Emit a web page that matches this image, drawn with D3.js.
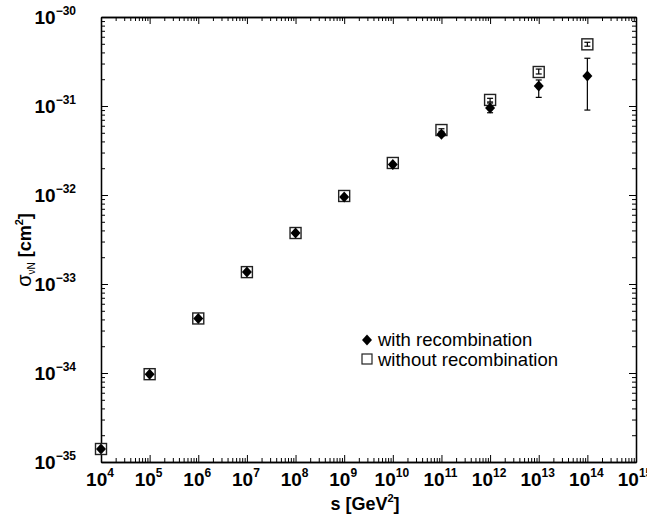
<!DOCTYPE html>
<html>
<head>
<meta charset="utf-8">
<script src="https://cdn.jsdelivr.net/npm/d3@7"></script>
<style>
  body { margin: 0; background: #fff; }
  svg { display: block; font-family: "Liberation Sans", Arial, sans-serif; }
</style>
</head>
<body>
<svg width="647" height="516"></svg>
<script>
// s values [GeV^2]
const sValues = [1e4, 1e5, 1e6, 1e7, 1e8, 1e9, 1e10, 1e11, 1e12, 1e13, 1e14];

// cross sections [cm^2]
const withRec = [1.4e-35, 9.7e-35, 4.1e-34, 1.36e-33, 3.74e-33, 9.5e-33, 2.2e-32, 4.8e-32, 9.5e-32, 1.68e-31, 2.17e-31];
const withRecLo = [null, null, null, null, null, null, null, 4.6e-32, 8.4e-32, 1.25e-31, 9.0e-32];
const withRecHi = [null, null, null, null, null, null, null, 5.0e-32, 1.08e-31, 1.96e-31, 3.44e-31];

const withoutRec = [1.4e-35, 9.7e-35, 4.1e-34, 1.36e-33, 3.74e-33, 9.75e-33, 2.29e-32, 5.37e-32, 1.17e-31, 2.41e-31, 4.93e-31];
const withoutRecLo = [null, null, null, null, null, null, null, 5.2e-32, 1.11e-31, 2.29e-31, 4.7e-31];
const withoutRecHi = [null, null, null, null, null, null, null, 5.55e-32, 1.22e-31, 2.6e-31, 5.2e-31];

const xDecades = d3.range(4, 16);   // 10^4 .. 10^15
const yDecades = d3.range(-35, -29); // 10^-35 .. 10^-30

const width = 647;
const height = 516;
const margin = { top: 17, right: 11, bottom: 54, left: 101 };

const svg = d3.select("svg");

const x = d3.scaleLog()
  .domain([1e4, 1e15])
  .range([margin.left, width - margin.right]);

const y = d3.scaleLog()
  .domain([1e-35, 1e-30])
  .range([height - margin.bottom, margin.top]);

// major + minor tick values
const xMajor = xDecades.map(d => Math.pow(10, d));
const xMinor = [];
xDecades.slice(0, -1).forEach(d => {
  for (let k = 2; k < 10; k++) xMinor.push(k * Math.pow(10, d));
});
const yMajor = yDecades.map(d => Math.pow(10, d));
const yMinor = [];
yDecades.slice(0, -1).forEach(d => {
  for (let k = 2; k < 10; k++) yMinor.push(k * Math.pow(10, d));
});

const axisStyle = g => {
  g.selectAll(".domain").attr("stroke", "#000").attr("stroke-width", 1.3);
  g.selectAll(".tick line").attr("stroke", "#000").attr("stroke-width", 1);
  g.selectAll(".tick text").remove();
};

const x0 = margin.left, x1 = width - margin.right;
const y0 = height - margin.bottom, y1 = margin.top;

// bottom axis
svg.append("g").attr("transform", `translate(0,${y0})`)
  .call(d3.axisBottom(x).tickValues(xMajor).tickSizeInner(-7).tickSizeOuter(0).tickFormat(""))
  .call(axisStyle);
svg.append("g").attr("transform", `translate(0,${y0})`)
  .call(d3.axisBottom(x).tickValues(xMinor).tickSizeInner(-4).tickSizeOuter(0).tickFormat(""))
  .call(axisStyle);
// top axis
svg.append("g").attr("transform", `translate(0,${y1})`)
  .call(d3.axisTop(x).tickValues(xMajor).tickSizeInner(-7).tickSizeOuter(0).tickFormat(""))
  .call(axisStyle);
svg.append("g").attr("transform", `translate(0,${y1})`)
  .call(d3.axisTop(x).tickValues(xMinor).tickSizeInner(-4).tickSizeOuter(0).tickFormat(""))
  .call(axisStyle);
// left axis
svg.append("g").attr("transform", `translate(${x0},0)`)
  .call(d3.axisLeft(y).tickValues(yMajor).tickSizeInner(-7).tickSizeOuter(0).tickFormat(""))
  .call(axisStyle);
svg.append("g").attr("transform", `translate(${x0},0)`)
  .call(d3.axisLeft(y).tickValues(yMinor).tickSizeInner(-4).tickSizeOuter(0).tickFormat(""))
  .call(axisStyle);
// right axis
svg.append("g").attr("transform", `translate(${x1},0)`)
  .call(d3.axisRight(y).tickValues(yMajor).tickSizeInner(-7).tickSizeOuter(0).tickFormat(""))
  .call(axisStyle);
svg.append("g").attr("transform", `translate(${x1},0)`)
  .call(d3.axisRight(y).tickValues(yMinor).tickSizeInner(-4).tickSizeOuter(0).tickFormat(""))
  .call(axisStyle);

// tick labels
const xLab = svg.append("g").selectAll("text")
  .data(xDecades)
  .enter()
  .append("text")
  .attr("x", d => x(Math.pow(10, d)) - 1)
  .attr("y", 486)
  .attr("text-anchor", "middle")
  .style("font-weight", "bold")
  .style("font-size", "19px");
xLab.append("tspan").text("10");
xLab.append("tspan").attr("dy", -9).style("font-size", "12px").text(d => d);

const yLab = svg.append("g").selectAll("text")
  .data(yDecades)
  .enter()
  .append("text")
  .attr("x", 76)
  .attr("y", d => y(Math.pow(10, d)) + 7)
  .attr("text-anchor", "end")
  .style("font-weight", "bold")
  .style("font-size", "19px");
yLab.append("tspan").text("10");
yLab.append("tspan").attr("dy", -9).style("font-size", "12px").text(d => "\u2212" + (-d));

// axis titles
const xTitle = svg.append("text")
  .attr("x", 365)
  .attr("y", 510)
  .attr("text-anchor", "middle")
  .style("font-weight", "bold")
  .style("font-size", "18px");
xTitle.append("tspan").text("s [GeV");
xTitle.append("tspan").attr("dy", -8).style("font-size", "11px").text("2");
xTitle.append("tspan").attr("dy", 8).text("]");

const yTitle = svg.append("text")
  .attr("transform", "translate(31,250) rotate(-90)")
  .attr("text-anchor", "middle")
  .style("font-weight", "bold")
  .style("font-size", "18px");
yTitle.append("tspan").style("font-weight", "normal").style("font-size", "20px").text("\u03c3");
yTitle.append("tspan").attr("dy", 4).style("font-size", "10px").style("font-weight", "normal").text("\u03bdN");
yTitle.append("tspan").attr("dy", -4).text(" [cm");
yTitle.append("tspan").attr("dy", -8).style("font-size", "11px").text("2");
yTitle.append("tspan").attr("dy", 8).text("]");

// error bars
function errorBars(lo, hi, cls) {
  const rows = sValues.map((s, i) => ({ s, lo: lo[i], hi: hi[i] })).filter(d => d.lo != null);
  const g = svg.append("g").attr("class", cls).attr("stroke", "#000").attr("stroke-width", 1.2);
  g.selectAll("line.v").data(rows).enter().append("line")
    .attr("x1", d => x(d.s)).attr("x2", d => x(d.s))
    .attr("y1", d => y(d.lo)).attr("y2", d => y(d.hi));
  g.selectAll("line.lo").data(rows).enter().append("line")
    .attr("x1", d => x(d.s) - 3).attr("x2", d => x(d.s) + 3)
    .attr("y1", d => y(d.lo)).attr("y2", d => y(d.lo));
  g.selectAll("line.hi").data(rows).enter().append("line")
    .attr("x1", d => x(d.s) - 3).attr("x2", d => x(d.s) + 3)
    .attr("y1", d => y(d.hi)).attr("y2", d => y(d.hi));
}

// without recombination: open squares
svg.append("g").selectAll("rect")
  .data(sValues.map((s, i) => ({ s, v: withoutRec[i] })))
  .enter()
  .append("rect")
  .attr("x", d => x(d.s) - 5.5)
  .attr("y", d => y(d.v) - 5.5)
  .attr("width", 11)
  .attr("height", 11)
  .attr("fill", "#fff")
  .attr("stroke", "#222")
  .attr("stroke-width", 1.4);
errorBars(withoutRecLo, withoutRecHi, "err-without");

// with recombination: filled diamonds
errorBars(withRecLo, withRecHi, "err-with");
const diamond = "M0,-5.5L5,0L0,5.5L-5,0Z";
svg.append("g").selectAll("path")
  .data(sValues.map((s, i) => ({ s, v: withRec[i] })))
  .enter()
  .append("path")
  .attr("d", diamond)
  .attr("transform", d => `translate(${x(d.s)},${y(d.v)})`)
  .attr("fill", "#000");

// legend
const legend = svg.append("g");
legend.append("path")
  .attr("d", diamond)
  .attr("transform", "translate(367,340)")
  .attr("fill", "#000");
legend.append("rect")
  .attr("x", 362).attr("y", 354).attr("width", 10).attr("height", 10)
  .attr("fill", "none").attr("stroke", "#222").attr("stroke-width", 1.2);
legend.append("text")
  .attr("x", 378).attr("y", 346)
  .style("font-size", "18.5px")
  .text("with recombination");
legend.append("text")
  .attr("x", 378).attr("y", 366)
  .style("font-size", "18.5px")
  .text("without recombination");
</script>
</body>
</html>
